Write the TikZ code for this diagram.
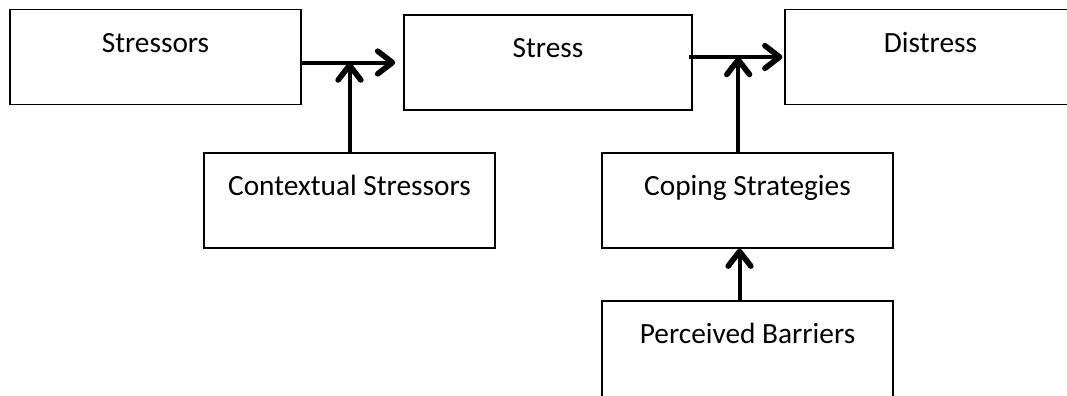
\documentclass[tikz,border=0pt]{standalone}
\usepackage{fontspec}
\setmainfont{Carlito}
\usetikzlibrary{arrows.meta}

\begin{document}
\begin{tikzpicture}[x=0.75pt,y=0.75pt,yscale=-1,xscale=1,
  box/.style={draw, line width=1.2pt, minimum width=218pt, inner sep=0pt,
    text height=32pt, text depth=39pt, font=\fontsize{22}{26}\selectfont},
  arrow/.style={line width=3pt, -{Straight Barb[length=11pt,width=17pt,line width=0pt 1.4,round]}}]
\clip (0,0) rectangle (1067,396);

% Boxes
\node[box] (stressors) at (155.5,57) {Stressors};
\node[box, minimum width=216pt] (stress) at (548,62.5) {Stress};
\node[box] (distress) at (930.5,57) {Distress};
\node[box] (context) at (349.5,200.5) {Contextual Stressors};
\node[box] (coping) at (747.5,200.5) {Coping Strategies};
\node[box, text depth=40.5pt] (barriers) at (747.5,349.5) {Perceived Barriers};

% Arrows
\draw[arrow] (stressors.east |- stress.west) -- ([xshift=-6pt]stress.west);
\draw[arrow] (context.north) -- (context.north |- stress.west);
\draw[arrow] ([xshift=-3pt]stress.east |- distress.west) -- ([xshift=-1.5pt]distress.west);
\draw[arrow] ([xshift=-7pt]coping.north) -- ([xshift=-7pt]coping.north |- distress.west);
\draw[arrow] ([xshift=-6pt]barriers.north) -- ([xshift=-6pt]coping.south);

\end{tikzpicture}
\end{document}
